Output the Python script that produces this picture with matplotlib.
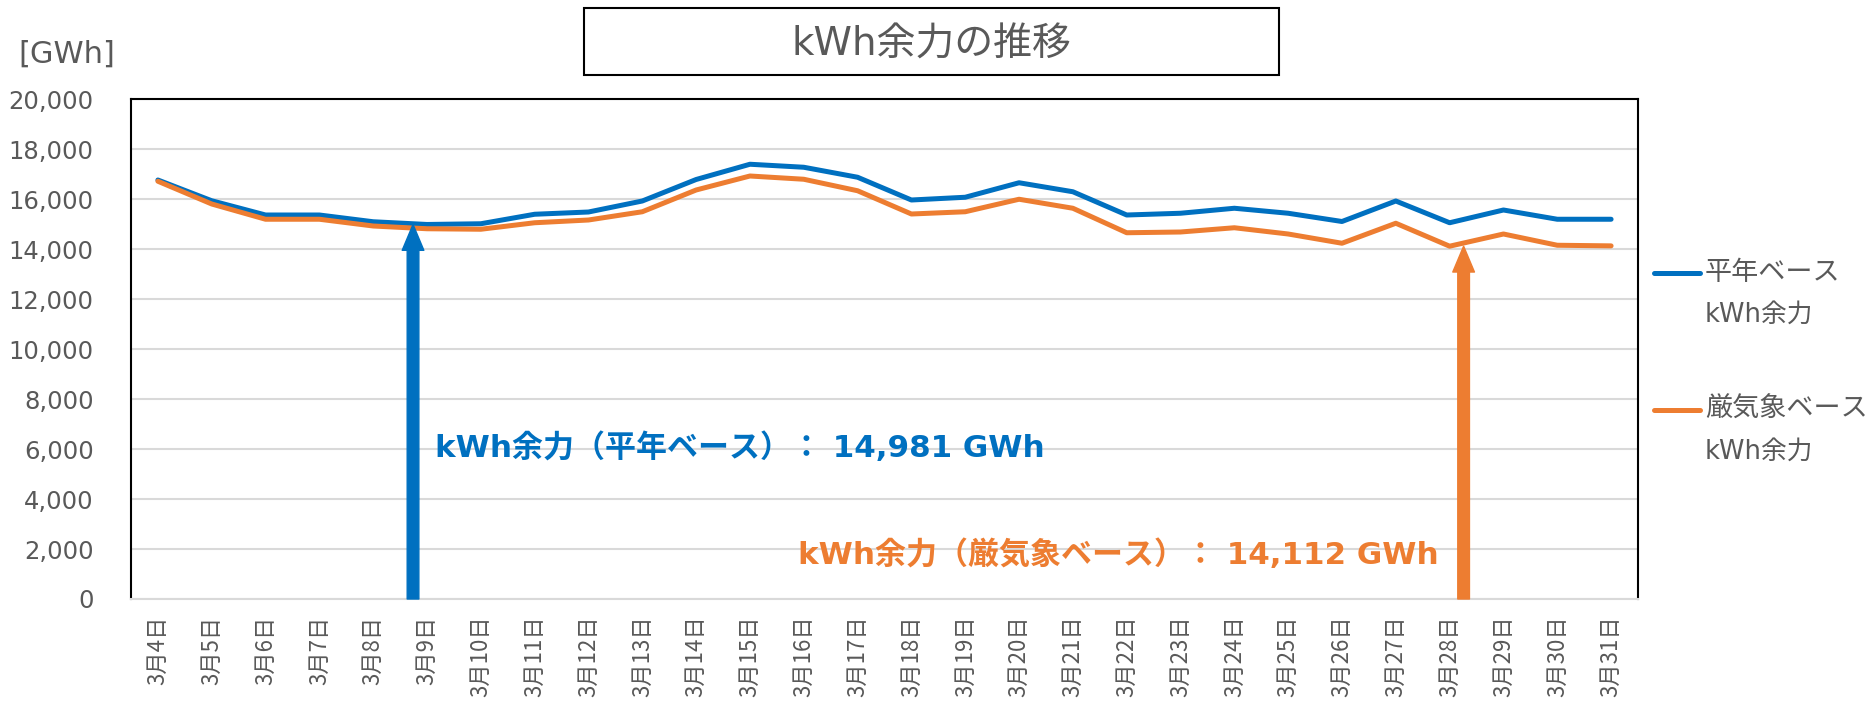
import matplotlib
matplotlib.use("Agg")
import matplotlib.pyplot as plt
from matplotlib.patches import Rectangle
from matplotlib.ticker import FuncFormatter, MultipleLocator

FAM = ['DejaVu Sans', 'Noto Sans CJK JP']
plt.rcParams['font.family'] = FAM

days = [f"3月{d}日" for d in range(4, 32)]
normal = [16760, 15930, 15360, 15360, 15090, 14981, 15010, 15390, 15480, 15920,
          16780, 17390, 17270, 16870, 15960, 16070, 16650, 16290, 15360, 15430,
          15630, 15430, 15100, 15920, 15050, 15560, 15190, 15190]
severe = [16710, 15800, 15190, 15190, 14920, 14810, 14790, 15050, 15160, 15490,
          16360, 16920, 16790, 16330, 15400, 15490, 15990, 15630, 14650, 14680,
          14850, 14600, 14230, 15030, 14112, 14600, 14150, 14125]
series_labels = ["平年ベース\nkWh余力", "厳気象ベース\nkWh余力"]
title = "kWh余力の推移"
unit = "[GWh]"
normal_min_idx, normal_min = 5, 14981
severe_min_idx, severe_min = 24, 14112
note_normal = f"kWh余力（平年ベース）： {normal_min:,} GWh"
note_severe = f"kWh余力（厳気象ベース）： {severe_min:,} GWh"

BLUE = "#0070C0"
ORANGE = "#ED7D31"
GRAY = "#595959"
GRID = "#D9D9D9"

fig = plt.figure(figsize=(18.72, 7.04), dpi=100)
ax = fig.add_axes([131/1872, 1-599/704, 1507/1872, 500/704])

x = list(range(len(days)))
ax.plot(x, normal, color=BLUE, lw=3.6, solid_capstyle='round', zorder=3)
ax.plot(x, severe, color=ORANGE, lw=3.6, solid_capstyle='round', zorder=3)

ax.set_xlim(-0.5, len(days) - 0.5)
ax.set_ylim(0, 20000)
ax.yaxis.set_major_locator(MultipleLocator(2000))
ax.yaxis.set_major_formatter(FuncFormatter(lambda v, p: f"{int(v):,}"))
ax.set_xticks(x)
ax.set_xticklabels(days, rotation=90, family=['Noto Sans CJK JP', 'DejaVu Sans'])
ax.tick_params(axis='both', length=0, colors=GRAY)
ax.tick_params(axis='x', pad=12, labelsize=16)
ax.tick_params(axis='y', pad=27, labelsize=17.5)
ax.grid(axis='y', color=GRID, lw=1.5, zorder=0)
for s in ['left', 'top', 'right']:
    ax.spines[s].set_color('black')
    ax.spines[s].set_linewidth(1.5)
ax.spines['bottom'].set_color(GRID)
ax.spines['bottom'].set_linewidth(1.5)

# arrows (hand-placed shapes in the original, slightly off the category centres)
for xpos, val, col in [(normal_min_idx - 0.26, normal_min, BLUE),
                       (severe_min_idx + 0.26, severe_min, ORANGE)]:
    ax.annotate('', xy=(xpos, val), xytext=(xpos, 0),
                arrowprops=dict(arrowstyle='simple,head_length=0.62,head_width=0.52,tail_width=0.28',
                                color=col, shrinkA=0, shrinkB=0, mutation_scale=30),
                zorder=4)

ax.text(5.15, 6050, note_normal, color=BLUE, fontsize=22.3, fontweight='bold',
        ha='left', va='center', zorder=5)
ax.text(23.8, 1770, note_severe, color=ORANGE, fontsize=22.3, fontweight='bold',
        ha='right', va='center', zorder=5)

# legend (manual)
for (yy, col, lab) in [(273, BLUE, series_labels[0]), (410, ORANGE, series_labels[1])]:
    fy = 1 - yy/704
    fig.add_artist(plt.Line2D([1654/1872, 1700/1872], [fy, fy], color=col, lw=3.6,
                              solid_capstyle='round', transform=fig.transFigure))
    lines = lab.split("\n")
    fig.text(1705/1872, fy, lines[0], color=GRAY, fontsize=19.5, ha='left', va='center')
    fig.text(1705/1872, 1 - (yy + 42)/704, lines[1], color=GRAY, fontsize=18.5, ha='left', va='center')

# title box
fig.add_artist(Rectangle((584/1872, 1-75/704), 695/1872, 67/704, transform=fig.transFigure,
                         fill=False, edgecolor='black', lw=1.5))
fig.text(931/1872, 1-45/704, title, color=GRAY, fontsize=28, ha='center', va='center')
fig.text(67/1872, 1-54/704, unit, color=GRAY, fontsize=22, ha='center', va='center')

fig.savefig("out.png", dpi=100, facecolor='white')
